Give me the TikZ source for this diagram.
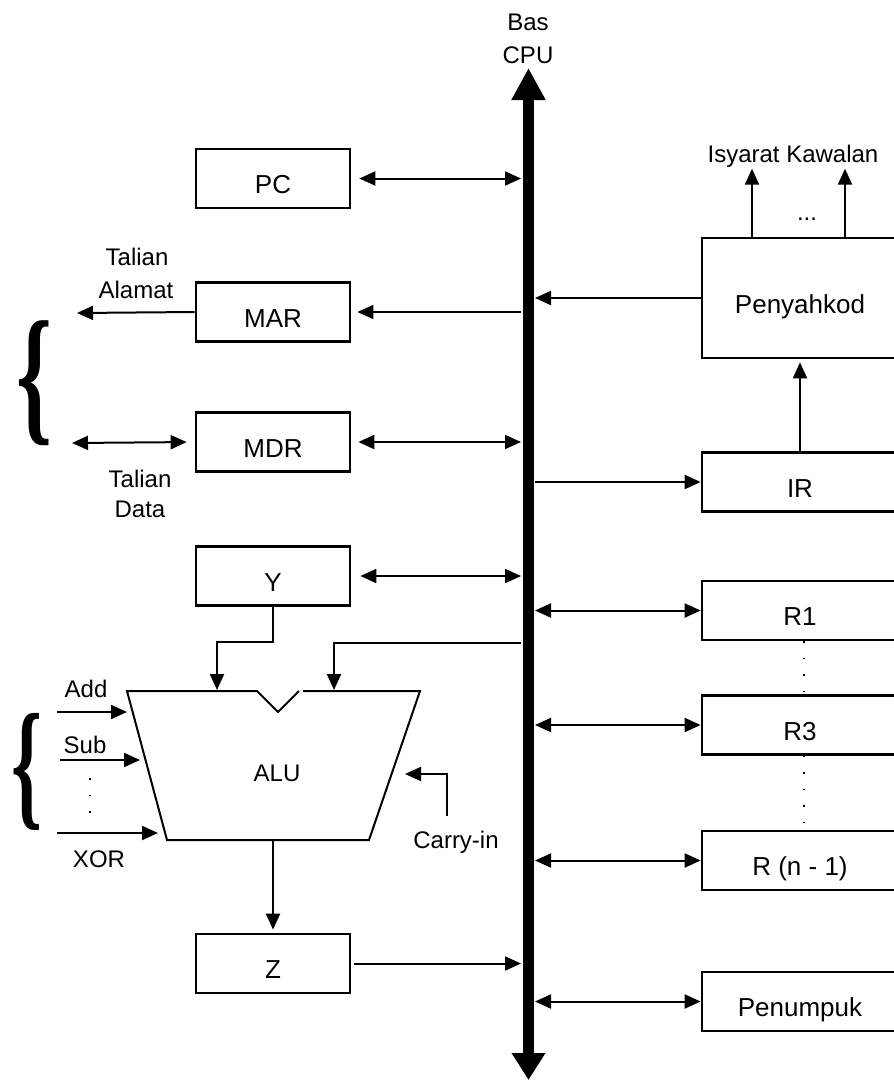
\documentclass[tikz,border=0pt]{standalone}
\usepackage{fontspec}
\setmainfont{Liberation Sans}
\newfontfamily\bracefont{Liberation Serif}
\usetikzlibrary{arrows.meta}

\tikzset{
  reg/.style={draw, line width=2.7pt, minimum width=154pt, minimum height=59pt, inner sep=0pt,
    text height=30pt, text depth=0pt, font=\fontsize{26}{30}\selectfont},
  rreg/.style={reg, minimum width=196pt},
  wire/.style={line width=2pt},
  lbl/.style={anchor=base, inner sep=0pt, font=\fontsize{24}{29}\selectfont},
  dots/.style={line width=1.2pt, dash pattern=on 1.5pt off 15pt},
  brace/.style={inner sep=0pt, font=\bracefont\bfseries},
}

\begin{document}
\begin{tikzpicture}[x=1pt,y=-1pt,>={Triangle[length=16pt,width=14pt]}]
	\useasboundingbox (0,0) rectangle (894,1082);
	\clip (0,0) rectangle (894,1082);
	% bus
	\coordinate (bustop) at (528.5,68);
	\coordinate (busbot) at (528.5,1080);
	\coordinate (busL) at (521,0);
	\coordinate (busR) at (535,0);
	\draw [line width=11pt, {Triangle[length=27pt,width=32pt]}-{Triangle[length=32pt,width=32pt]}] (busbot) -- (bustop);
	\node [lbl] (bas) at (528,30) {Bas};
	\node [lbl] (cpu) at (528,63) {CPU};
	% left registers
	\node [reg] (pc) at (273,178.5) {PC};
	\node [reg] (mar) at (273,312) {MAR};
	\node [reg] (mdr) at (273,442) {MDR};
	\node [reg] (y) at (273,576) {Y};
	\node [reg] (z) at (273,963.5) {Z};
	\draw [wire,<->,shorten <=8pt] (pc.east) -- (pc.east -| busL);
	\draw [wire,->,shorten >=6pt] (mar.east -| busL) -- (mar.east);
	\draw [wire,<->,shorten <=7pt] (mdr.east) -- (mdr.east -| busL);
	\draw [wire,<->,shorten <=9pt] (y.east) -- (y.east -| busL);
	\draw [wire,->,shorten <=3pt] (z.east) -- (z.east -| busL);
	% address and data lines
	\coordinate (addr) at (77,313);
	\coordinate (data) at (72,443);
	\draw [wire,->] (mar.west) -- (addr);
	\draw [wire,<->,shorten >=8pt] (data) -- (mdr.west);
	\node [lbl] (tal1) at (137,265) {Talian};
	\node [lbl] (alamat) at (136,298) {Alamat};
	\node [lbl] (tal2) at (140,487) {Talian};
	\node [lbl] (dat) at (140,517) {Data};
	\node [brace] (br1) at (35,383) {\resizebox*{36pt}{125pt}{\{}};
	% ALU
	\draw [line width=2pt] (303,691) -- (420,691) -- (369,840) -- (167,840) -- (127,691) -- (257,691) -- (278,712) -- (299,691);
	\node [font=\fontsize{24}{29}\selectfont] (alu) at (277,773) {ALU};
	\coordinate (aluA) at (217,690);
	\coordinate (aluB) at (334,690);
	\coordinate (aluC) at (405,774);
	\coordinate (aluO) at (273,840);
	\coordinate (tapB) at (521,643);
	\coordinate (cin) at (447,816);
	\draw [wire,->] (y.south) -- ++(0,35) -| (aluA);
	\draw [wire,->] (tapB) -| (aluB);
	\draw [wire,->] (cin) |- (aluC);
	\node [lbl] (carry) at (456,848) {Carry-in};
	\draw [wire,->,shorten >=3pt] (aluO) -- (z.north);
	% function select
	\coordinate (inAdd) at (57,712);
	\coordinate (inSub) at (60,760);
	\coordinate (inXor) at (57,833);
	\draw [wire,->] (inAdd) -- (127,712);
	\draw [wire,->] (inSub) -- (140,760);
	\draw [wire,->] (inXor) -- (158,833);
	\node [lbl] (add) at (86,697) {Add};
	\node [lbl] (sub) at (85,753) {Sub};
	\node [lbl] (xor) at (99,867) {XOR};
	\draw [dots] (90,778) -- (90,814);
	\node [brace] (br2) at (27.5,771.5) {\resizebox*{31pt}{117pt}{\{}};
	% right side
	\node [rreg, minimum height=120pt] (dec) at (800,298) {Penyahkod};
	\node [rreg] (ir) at (800,482) {IR};
	\node [rreg] (r1) at (800,610.5) {R1};
	\node [rreg] (r3) at (800,725) {R3};
	\node [rreg] (rn) at (800,860.5) {R (n - 1)};
	\node [rreg] (acc) at (800,1001.5) {Penumpuk};
	\draw [wire,->] ([xshift=-48pt]dec.north) -- ++(0,-68);
	\draw [wire,->] ([xshift=45pt]dec.north) -- ++(0,-68);
	\node [lbl] (ellip) at (807,220) {...};
	\node [lbl] (isy) at (793,162) {Isyarat Kawalan};
	\draw [wire,->] (dec.west) -- (dec.west -| busR);
	\draw [wire,->] (ir.west -| busR) -- (ir.west);
	\draw [wire,->,shorten >=3pt] (ir.north) -- (dec.south);
	\draw [wire,<->] (r1.west -| busR) -- (r1.west);
	\draw [wire,<->] (r3.west -| busR) -- (r3.west);
	\draw [wire,<->] (rn.west -| busR) -- (rn.west);
	\draw [wire,<->] (acc.west -| busR) -- (acc.west);
	\draw [dots] ([xshift=4pt]r1.south) -- ([xshift=4pt]r3.north);
	\draw [dots] ([xshift=4pt]r3.south) -- ([xshift=4pt]rn.north);
\end{tikzpicture}
\end{document}
